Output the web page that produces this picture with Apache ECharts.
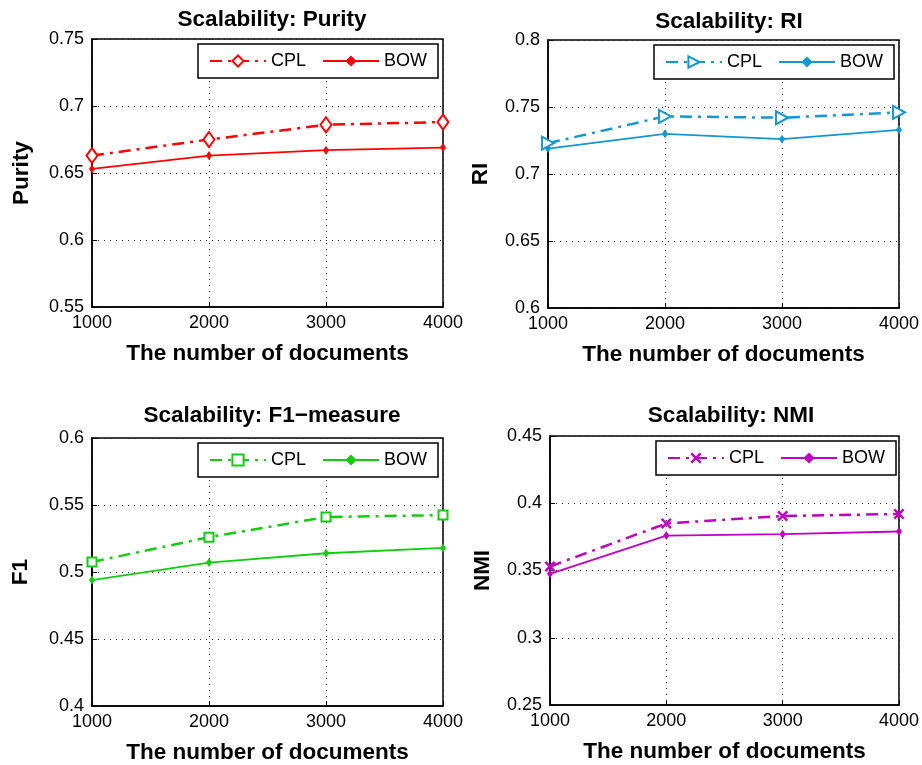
<!DOCTYPE html>
<html><head><meta charset="utf-8">
<script src="https://cdn.jsdelivr.net/npm/echarts@6/dist/echarts.min.js"></script>
<style>html,body{margin:0;padding:0;background:#fff}#c{width:922px;height:765px}</style>
</head><body><div id="c"></div>
<script>
const docs = [1000, 2000, 3000, 4000];
const purityCPL = [0.663, 0.675, 0.686, 0.688];
const purityBOW = [0.653, 0.663, 0.667, 0.669];
const riCPL = [0.723, 0.743, 0.742, 0.746];
const riBOW = [0.719, 0.730, 0.726, 0.733];
const f1CPL = [0.5075, 0.526, 0.541, 0.5425];
const f1BOW = [0.494, 0.507, 0.514, 0.518];
const nmiCPL = [0.353, 0.385, 0.3905, 0.392];
const nmiBOW = [0.3475, 0.376, 0.377, 0.379];

const titles = ['Scalability: Purity', 'Scalability: RI', 'Scalability: F1\u2212measure', 'Scalability: NMI'];
const yNames = ['Purity', 'RI', 'F1', 'NMI'];
const xName = 'The number of documents';
const yMin = [0.55, 0.6, 0.4, 0.25];
const yMax = [0.75, 0.8, 0.6, 0.45];
const colors = ['#ff0000', '#1496d4', '#12cc12', '#c000c0'];
const cplData = [purityCPL, riCPL, f1CPL, nmiCPL];
const bowData = [purityBOW, riBOW, f1BOW, nmiBOW];
const legendNames = ['CPL', 'BOW'];

const FONT = '"Liberation Sans", Arial, Helvetica, sans-serif';
const grids = [
  {left: 92, top: 39, width: 351, height: 268},
  {left: 548, top: 40, width: 351, height: 268},
  {left: 92, top: 438, width: 351, height: 269},
  {left: 550, top: 436, width: 350, height: 269}
];
const titlePos = [[267, 3], [724, 5], [267, 399], [726, 399]];
const yNameGap = [59, 56, 60, 56];
const cplSymbols = [
  {symbol: 'diamond', size: [11, 15], rotate: 0},
  {symbol: 'triangle', size: [13, 12], rotate: -90},
  {symbol: 'rect', size: [9, 9], rotate: 0},
  {symbol: 'path://M0,1.6L1.6,0L5,3.4L8.4,0L10,1.6L6.6,5L10,8.4L8.4,10L5,6.6L1.6,10L0,8.4L3.4,5Z', size: [11, 11], rotate: 0}
];

const option = {
  animation: false,
  backgroundColor: '#fff',
  title: [], grid: [], xAxis: [], yAxis: [], legend: [], series: []
};

for (let i = 0; i < 4; i++) {
  const g = grids[i];
  option.grid.push(Object.assign({show: true, borderColor: '#000', borderWidth: 1.5, backgroundColor: '#fff'}, g));
  option.title.push({
    text: titles[i], left: titlePos[i][0], top: titlePos[i][1], textAlign: 'center',
    textStyle: {fontFamily: FONT, fontSize: 22.5, fontWeight: 'bold', color: '#000'}
  });
  option.xAxis.push({
    type: 'value', gridIndex: i, min: 1000, max: 4000, interval: 1000,
    name: xName, nameLocation: 'middle', nameGap: 35,
    nameTextStyle: {fontFamily: FONT, fontSize: 22.5, fontWeight: 'bold', color: '#000'},
    axisLine: {show: true, onZero: false, lineStyle: {color: '#000', width: 1.5}},
    axisTick: {show: true, inside: true, length: 5, lineStyle: {color: '#000'}},
    axisLabel: {fontFamily: FONT, fontSize: 18, color: '#000', margin: 7, formatter: v => String(v)},
    splitLine: {show: true, lineStyle: {color: '#222', width: 1, type: [1, 5]}}
  });
  option.yAxis.push({
    type: 'value', gridIndex: i, min: yMin[i], max: yMax[i], interval: 0.05,
    name: yNames[i], nameLocation: 'middle', nameGap: yNameGap[i], nameRotate: 90,
    nameTextStyle: {fontFamily: FONT, fontSize: 22.5, fontWeight: 'bold', color: '#000'},
    axisLine: {show: true, onZero: false, lineStyle: {color: '#000', width: 1.5}},
    axisTick: {show: true, inside: true, length: 5, lineStyle: {color: '#000'}},
    axisLabel: {fontFamily: FONT, fontSize: 18, color: '#000', margin: 8,
      formatter: v => String(+v.toFixed(2))},
    splitLine: {show: true, lineStyle: {color: '#222', width: 1, type: [1, 5]}}
  });
  const cName = legendNames[0] + '|' + i, bName = legendNames[1] + '|' + i;
  option.legend.push({
    data: [cName, bName],
    left: g.left + 106, top: g.top + 5,
    orient: 'horizontal',
    itemWidth: 56, itemHeight: 14, itemGap: 16,
    padding: [8, 11, 8, 11],
    backgroundColor: '#fff', borderColor: '#000', borderWidth: 1.5,
    textStyle: {fontFamily: FONT, fontSize: 18, color: '#000'},
    formatter: n => n.split('|')[0]
  });
  const cs = cplSymbols[i];
  option.series.push({
    name: cName, type: 'line', xAxisIndex: i, yAxisIndex: i, clip: false,
    data: docs.map((d, k) => [d, cplData[i][k]]),
    symbol: cs.symbol, symbolSize: cs.size, symbolRotate: cs.rotate, showAllSymbol: true,
    lineStyle: {color: colors[i], width: 2.5, type: [12, 6, 3, 6]},
    itemStyle: i === 3 ? {color: colors[i]} : {color: '#fff', borderColor: colors[i], borderWidth: 2},
    z: 3
  });
  option.series.push({
    name: bName, type: 'line', xAxisIndex: i, yAxisIndex: i, clip: false,
    data: docs.map((d, k) => [d, bowData[i][k]]),
    symbol: 'diamond', symbolSize: [6, 9], showAllSymbol: true,
    lineStyle: {color: colors[i], width: 1.8, type: 'solid'},
    itemStyle: {color: colors[i]},
    z: 2
  });
}

const chart = echarts.init(document.getElementById('c'), null, {renderer: 'canvas'});
chart.setOption(option);
</script>
</body></html>
